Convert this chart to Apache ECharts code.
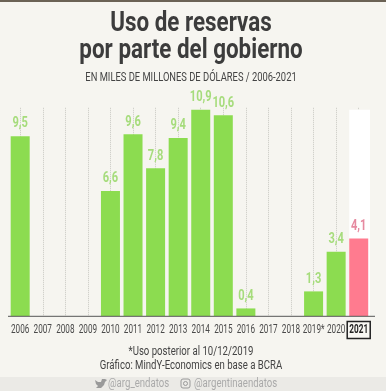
<!DOCTYPE html>
<html><head><meta charset="utf-8">
<style>html,body{margin:0;padding:0;background:#f6f5f0}#c{width:386px;height:391px}</style>
<script src="https://cdn.jsdelivr.net/npm/echarts@6/dist/echarts.min.js"></script>
</head><body><div id="c"></div>
<script>
const years=['2006','2007','2008','2009','2010','2011','2012','2013','2014','2015','2016','2017','2018','2019*','2020','2021'];
const greenValues=[9.5,null,null,null,6.6,9.6,7.8,9.4,10.9,10.6,0.4,null,null,1.3,3.4,null];
const pinkValues=[null,null,null,null,null,null,null,null,null,null,null,null,null,null,null,4.1];
const highlightValues=[null,null,null,null,null,null,null,null,null,null,null,null,null,null,null,10.9];
const titleLines=['Uso de reservas','por parte del gobierno'];
const subtitle='EN MILES DE MILLONES DE DÓLARES / 2006-2021';
const notes=['*Uso posterior al 10/12/2019','Gráfico: MindY-Economics en base a BCRA'];
const chart=echarts.init(document.getElementById('c'),null,{renderer:'canvas'});
const sText=(x,y,text,f,fill,sx,align)=>({type:'text',z:5,x:x,y:y,scaleX:sx,
  style:{x:0,y:0,text:text,align:align||'center',verticalAlign:'middle',font:f,fill:fill}});
const valueLabelData=[];
greenValues.forEach((v,i)=>{if(v!==null)valueLabelData.push([i,v,'#a6dc7c']);});
pinkValues.forEach((v,i)=>{if(v!==null)valueLabelData.push([i,v,'#e68aa0']);});
const renderValueLabel=(p,api)=>{
  const i=api.value(0),v=api.value(1),pt=api.coord([i,v]);
  return {type:'text',x:pt[0],y:pt[1]-5,scaleX:0.74,
    style:{x:0,y:0,text:String(v).replace('.',','),align:'center',verticalAlign:'bottom',font:'bold 15px Roboto',fill:valueLabelData[p.dataIndex][2]}};
};
const renderTick=(p,api)=>{
  const i=api.value(0),pt=api.coord([i,0]),hl=years[i]==='2021',y=pt[1]+14;
  const label={type:'text',x:pt[0],y:y,scaleX:0.68,
    style:{x:0,y:0,text:years[i],align:'center',verticalAlign:'middle',font:(hl?'bold ':'')+'12px Roboto',fill:hl?'#222':'#4a4a4a'}};
  if(!hl)return label;
  return {type:'group',children:[
    {type:'rect',shape:{x:pt[0]-11.5,y:y-8.5,width:23,height:17},style:{fill:'#f8f7f3',stroke:'#222',lineWidth:1.5}},
    label]};
};
chart.setOption({
  animation:false,
  backgroundColor:'#f6f5f0',
  grid:{left:8.9,right:16,top:107.8,bottom:75,containLabel:false},
  xAxis:{type:'category',data:years,boundaryGap:true,
    axisLine:{show:false},axisTick:{show:false},axisLabel:{show:false},
    splitLine:{show:true,alignWithLabel:true,interval:0,lineStyle:{color:'#c9c9c2',type:'dotted',width:1}}},
  yAxis:{type:'value',min:0,max:11,show:false,splitLine:{show:false}},
  series:[
    {name:'highlight',type:'bar',data:highlightValues,barWidth:24,barGap:'-100%',z:1,silent:true,
     itemStyle:{color:'#ffffff'}},
    {name:'green',type:'bar',data:greenValues,barWidth:19,barGap:'-100%',z:2,itemStyle:{color:'#8cdc50'}},
    {name:'pink',type:'bar',data:pinkValues,barWidth:19,barGap:'-100%',z:2,itemStyle:{color:'#ff7b8f'}},
    {name:'valueLabels',type:'custom',data:valueLabelData,z:3,silent:true,clip:false,renderItem:renderValueLabel,encode:{x:0,y:1}},
    {name:'tickLabels',type:'custom',data:years.map((y,i)=>[i,0]),z:3,silent:true,clip:false,renderItem:renderTick,encode:{x:0,y:1}}
  ],
  graphic:[
    {type:'rect',z:-1,shape:{x:0,y:0,width:386,height:2},style:{fill:'#6b6255'}},
    {type:'rect',z:-1,shape:{x:0,y:377,width:386,height:14},style:{fill:'#ebeae6'}},
    {type:'line',z:5,shape:{x1:8,y1:316.3,x2:375,y2:316.3},style:{stroke:'#555',lineWidth:1}},
    sText(191,24,titleLines[0],'bold 28px Roboto','#3c3c3c',0.8),
    sText(191,51,titleLines[1],'bold 28px Roboto','#3c3c3c',0.8),
    sText(191,78,subtitle,'12px Roboto','#444',0.78),
    sText(191,352,notes[0],'12px Roboto','#444',0.8),
    sText(191,366,notes[1],'12px Roboto','#444',0.8),
    {type:'polygon',z:5,shape:{points:[[95,380],[98,382],[101,382],[102,379],[105,379],[107,380],[105,382],[104,385],[101,388],[96,388],[98,386],[96,384]]},style:{fill:'#9a9a9a'}},
    sText(108,384,'@arg_endatos','12px Roboto','#aaa',0.8,'left'),
    {type:'rect',z:5,shape:{x:181,y:379,width:9,height:9,r:2},style:{fill:'none',stroke:'#9a9a9a',lineWidth:1}},
    {type:'circle',z:5,shape:{cx:185.5,cy:383.5,r:2},style:{fill:'none',stroke:'#9a9a9a',lineWidth:1}},
    sText(194,384,'@argentinaendatos','12px Roboto','#aaa',0.8,'left')
  ]
});
</script></body></html>
